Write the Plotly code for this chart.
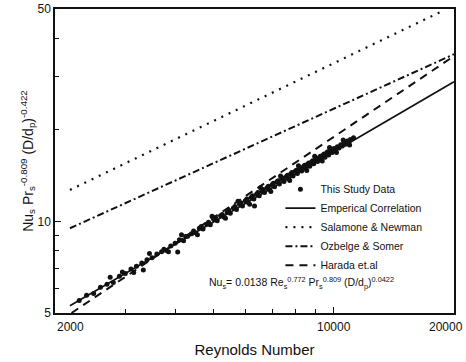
import numpy as np
import plotly.graph_objects as go

# ---- data ----
study_re = [2300, 2400, 2500, 2600, 2700, 2750, 2800, 2900, 2950, 3000, 3100, 3150, 3200, 3300,
            3330, 3400, 3450, 3500, 3600, 3700, 3750, 3800, 3850, 3900, 4000, 4060, 4100, 4150,
            4200, 4250, 4300, 4400, 4450, 4500, 4550, 4600, 4650, 4700, 4800, 4850, 4900, 4950,
            5000, 5050, 5100, 5200, 5250, 5300, 5350, 5400, 5450, 5500, 5600, 5650, 5700, 5750,
            5800, 5850, 5900, 6000, 6050, 6100, 6150, 6200, 6250, 6300, 6325, 6400, 6450, 6500,
            6550, 6600, 6650, 6700, 6800, 6850, 6900, 6950, 7000, 7050, 7100, 7200, 7250, 7300,
            7350, 7400, 7450, 7500, 7600, 7650, 7700, 7750, 7800, 7850, 7900, 8000, 8050, 8100,
            8150, 8200, 8250, 8300, 8400, 8450, 8500, 8550, 8600, 8650, 8700, 8800, 8850, 8900,
            8950, 9000, 9050, 9100, 9200, 9250, 9300, 9350, 9400, 9450, 9500, 9600, 9650, 9700,
            9750, 9800, 9850, 9900, 10000, 10100, 10150, 10200, 10300, 10400, 10500, 10550, 10600,
            10700, 10800, 10900, 10950, 11000, 11200]
study_nu = [5.50, 5.72, 5.80, 6.08, 6.22, 6.55, 6.30, 6.60, 6.82, 6.75, 6.98, 6.80, 7.12, 7.30,
            6.93, 7.48, 7.85, 7.60, 7.82, 7.95, 8.10, 8.02, 7.95, 8.30, 8.48, 7.94, 8.70, 9.05,
            8.65, 8.92, 8.95, 9.12, 9.30, 9.18, 9.04, 9.50, 9.62, 9.45, 9.80, 9.95, 9.75, 10.40,
            10.15, 10.30, 10.05, 10.45, 10.55, 10.35, 10.25, 10.75, 10.90, 10.65, 11.08, 11.20, 10.95, 11.65,
            11.40, 11.52, 11.25, 11.70, 11.85, 11.55, 11.40, 12.00, 12.15, 11.85, 11.25, 12.30, 12.45, 12.15,
            12.90, 12.60, 12.75, 12.45, 12.90, 13.05, 12.72, 12.55, 13.20, 13.35, 13.00, 13.50, 13.62, 13.28,
            14.10, 13.78, 13.90, 13.55, 14.05, 14.20, 13.82, 13.65, 14.35, 14.48, 14.10, 14.62, 14.75, 14.38,
            15.25, 14.90, 15.02, 14.65, 15.18, 15.30, 14.95, 14.72, 15.45, 15.58, 15.20, 15.72, 15.85, 15.48,
            16.40, 16.00, 16.12, 15.75, 16.28, 16.40, 16.02, 15.80, 16.55, 16.68, 16.28, 16.82, 16.95, 16.55,
            17.50, 17.10, 17.22, 16.85, 17.38, 17.20, 16.85, 17.62, 17.45, 17.88, 17.70, 18.55, 18.10,
            17.95, 18.40, 18.20, 17.85, 18.60, 18.85]

emp_re = [2180, 20000]
emp_nu = [5.28, 28.8]
sal_re = [2180, 18500]
sal_nu = [12.7, 48.9]
ozb_re = [2180, 20000]
ozb_nu = [9.5, 35.5]
har_re = [2200, 20000]
har_nu = [5.0, 35.0]

x_tick_labels = ["2000", "10000", "20000"]
x_tick_values = [2000, 10000, 20000]
x_minor = [3000, 4000, 5000, 6000, 7000, 8000, 9000]
y_tick_values = [5, 10, 50]
y_minor = [6, 7, 8, 9, 20, 30, 40]

FONT = "Liberation Sans, Arial, sans-serif"
INK = "#111111"

fig = go.Figure()
fig.add_trace(go.Scatter(x=study_re, y=study_nu, mode="markers", name="This Study Data",
                         marker=dict(color=INK, size=5, symbol="circle")))
fig.add_trace(go.Scatter(x=emp_re, y=emp_nu, mode="lines", name="Emperical Correlation",
                         line=dict(color=INK, width=1.7)))
fig.add_trace(go.Scatter(x=sal_re, y=sal_nu, mode="lines", name="Salamone & Newman",
                         line=dict(color=INK, width=2.2, dash="2px,6px")))
fig.add_trace(go.Scatter(x=ozb_re, y=ozb_nu, mode="lines", name="Ozbelge & Somer",
                         line=dict(color=INK, width=2, dash="7px,3px,2px,3px")))
fig.add_trace(go.Scatter(x=har_re, y=har_nu, mode="lines", name="Harada et.al",
                         line=dict(color=INK, width=2, dash="8px,6px")))

annotations = []
anchors = ["left", "center", "right"]
shifts = [0, 0, 11]
for val, lab, anc, sh in zip(x_tick_values, x_tick_labels, anchors, shifts):
    annotations.append(dict(x=np.log10(val), y=0, xref="x", yref="paper", text=lab,
                            showarrow=False, xanchor=anc, yanchor="top", yshift=-5, xshift=sh,
                            font=dict(family=FONT, size=12, color=INK)))
annotations.append(dict(
    x=0.38, y=0.10, xref="paper", yref="paper", xanchor="left", yanchor="middle", showarrow=False,
    text="Nu<sub>s</sub>= 0.0138 Re<sub>s</sub><sup>0.772</sup> Pr<sub>s</sub><sup>0.809</sup> (D/d<sub>p</sub>)<sup>0.0422</sup>",
    font=dict(family=FONT, size=10.5, color=INK)))

fig.update_layout(
    width=466, height=362,
    margin=dict(l=55, r=12, t=9, b=49, autoexpand=False),
    paper_bgcolor="white", plot_bgcolor="white",
    font=dict(family=FONT, color=INK),
    showlegend=True,
    legend=dict(x=0.565, y=0.455, xanchor="left", yanchor="top",
                bgcolor="rgba(0,0,0,0)", font=dict(family=FONT, size=10.5, color=INK),
                tracegroupgap=0, itemwidth=30),
    annotations=annotations,
)
fig.update_xaxes(type="log", range=[np.log10(2000), np.log10(20000)], automargin=False,
                 showgrid=False, zeroline=False,
                 showline=True, linecolor=INK, linewidth=1.5, mirror=True,
                 ticks="inside", ticklen=6, tickcolor=INK, tickwidth=1.2,
                 tickvals=x_tick_values, showticklabels=False,
                 minor=dict(tickvals=x_minor, ticks="inside", ticklen=4, tickcolor=INK, tickwidth=1.2, showgrid=False),
                 title=dict(text="Reynolds Number", font=dict(family=FONT, size=15, color=INK), standoff=31))
fig.update_yaxes(type="log", range=[np.log10(5), np.log10(50)], automargin=False,
                 showgrid=False, zeroline=False,
                 showline=True, linecolor=INK, linewidth=1.5, mirror=True,
                 ticks="inside", ticklen=6, tickcolor=INK, tickwidth=1.2,
                 tickvals=y_tick_values, ticktext=[str(v) for v in y_tick_values],
                 tickfont=dict(family=FONT, size=12, color=INK),
                 minor=dict(tickvals=y_minor, ticks="inside", ticklen=4, tickcolor=INK, tickwidth=1.2, showgrid=False),
                 title=dict(text="Nu<sub>s</sub> Pr<sub>s</sub><sup>-0.809</sup> (D/d<sub>p</sub>)<sup>-0.422</sup>",
                            font=dict(family=FONT, size=14, color=INK), standoff=0))

fig.write_html("out.html", config={"displayModeBar": False},
               post_script="document.body.style.margin='0';")
